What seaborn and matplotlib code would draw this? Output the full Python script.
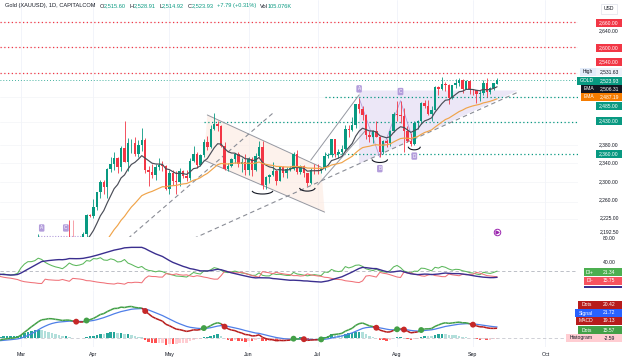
import numpy as np
import pandas as pd
import matplotlib.pyplot as plt
import seaborn as sns
from matplotlib.collections import LineCollection
from matplotlib.patches import Polygon, Arc, Rectangle
from matplotlib.ticker import NullLocator

# Daily XAUUSD bars, 2 Jan - 11 Sep 2024 (Jan/Feb only feed the indicators)
opens = [2063, 2060, 2042, 2043, 2045, 2028, 2029, 2024, 2029, 2049, 2055, 2028, 2006, 2023, 2029, 2021, 2029, 2014, 2020, 2018, 2033, 2037,
         2039, 2054, 2039, 2025, 2035, 2035, 2034, 2024, 2020, 1992, 1992, 2004, 2013, 2018, 2025, 2025, 2024, 2036, 2031, 2033, 2034,
         2044, 2083, 2114, 2128, 2148, 2159, 2178, 2182, 2158, 2174, 2162, 2155, 2160, 2157, 2186, 2181, 2165, 2172, 2179, 2194, 2233,
         2232, 2250, 2280, 2300, 2290, 2329, 2339, 2352, 2333, 2372, 2344, 2383, 2383, 2361, 2379, 2391, 2327, 2322, 2316, 2332, 2337, 2335,
         2286, 2320, 2303, 2301, 2323, 2314, 2309, 2346, 2360, 2336, 2358, 2386, 2376, 2415, 2425, 2421, 2378, 2329, 2334, 2350, 2360, 2338, 2343,
         2327, 2350, 2327, 2355, 2376, 2294, 2311, 2316, 2324, 2303, 2333, 2319, 2329, 2329, 2360, 2322, 2334, 2320, 2298, 2327,
         2326, 2324, 2330, 2356, 2357, 2392, 2359, 2364, 2371, 2415, 2411, 2422, 2469, 2459, 2445, 2400, 2396, 2409, 2397, 2364, 2387, 2384, 2410,
         2447, 2446, 2443, 2410, 2389, 2382, 2427, 2431, 2472, 2465, 2447, 2456, 2507, 2504, 2514, 2512, 2484, 2512, 2518, 2524, 2504, 2521,
         2503, 2500, 2493, 2495, 2516, 2497, 2506, 2515.6]
highs = [2079, 2065, 2055, 2064, 2047, 2040, 2040, 2039, 2062, 2059, 2057, 2031, 2025, 2034, 2033, 2032, 2037, 2024, 2025, 2036, 2040, 2056,
         2065, 2066, 2040, 2040, 2044, 2042, 2040, 2029, 2031, 1995, 2009, 2016, 2022, 2031, 2030, 2034, 2041, 2039, 2037, 2043, 2052,
         2088, 2119, 2141, 2152, 2165, 2195, 2189, 2185, 2180, 2176, 2171, 2164, 2163, 2188, 2222, 2182, 2176, 2184, 2199, 2236, 2236,
         2266, 2281, 2305, 2305, 2330, 2354, 2365, 2354, 2378, 2431, 2395, 2392, 2397, 2391, 2417, 2395, 2335, 2338, 2338, 2352, 2345, 2336,
         2326, 2326, 2325, 2330, 2327, 2326, 2351, 2378, 2364, 2359, 2392, 2398, 2422, 2450, 2432, 2423, 2385, 2341, 2352, 2363, 2364, 2352, 2360,
         2353, 2354, 2362, 2388, 2387, 2314, 2318, 2342, 2327, 2335, 2334, 2333, 2335, 2365, 2369, 2337, 2336, 2320, 2331, 2339,
         2338, 2333, 2364, 2363, 2392, 2393, 2370, 2379, 2424, 2424, 2440, 2469, 2483, 2465, 2447, 2410, 2412, 2431, 2399, 2390, 2392, 2412, 2451,
         2477, 2477, 2461, 2420, 2405, 2431, 2435, 2475, 2478, 2479, 2465, 2509, 2509, 2531.6, 2520, 2514, 2513, 2525, 2528, 2526, 2524, 2524,
         2504, 2502, 2500, 2523, 2529, 2507, 2517, 2528.91]
lows = [2058, 2030, 2034, 2024, 2017, 2021, 2021, 2013, 2027, 2047, 2024, 2002, 2004, 2021, 2016, 2011, 2011, 2010, 2013, 2010, 2026, 2033,
        2031, 2030, 2015, 2020, 2028, 2026, 2021, 2016, 1990, 1985, 1984, 1997, 2012, 2011, 2020, 2020, 2022, 2025, 2027, 2025, 2030,
        2038, 2078, 2113, 2125, 2145, 2155, 2175, 2150, 2155, 2154, 2153, 2152, 2146, 2146, 2175, 2156, 2164, 2170, 2174, 2186, 2229,
        2228, 2244, 2268, 2275, 2267, 2321, 2327, 2319, 2325, 2342, 2324, 2362, 2355, 2353, 2367, 2320, 2292, 2310, 2305, 2326, 2323, 2285,
        2277, 2294, 2277, 2292, 2310, 2303, 2306, 2344, 2331, 2335, 2353, 2369, 2373, 2412, 2409, 2374, 2326, 2324, 2332, 2341, 2333, 2322, 2315,
        2315, 2314, 2324, 2353, 2287, 2286, 2298, 2313, 2295, 2302, 2311, 2310, 2324, 2327, 2317, 2318, 2311, 2293, 2297, 2318,
        2318, 2319, 2327, 2352, 2353, 2353, 2352, 2359, 2367, 2396, 2410, 2416, 2449, 2435, 2393, 2385, 2384, 2396, 2353, 2361, 2375, 2378, 2407,
        2431, 2427, 2364, 2385, 2378, 2380, 2414, 2425, 2460, 2444, 2431, 2455, 2489, 2502, 2499, 2470, 2481, 2505, 2511, 2494, 2503, 2493,
        2490, 2471, 2477, 2490, 2485, 2492, 2500, 2514.92]
closes = [2060, 2042, 2043, 2045, 2028, 2029, 2024, 2029, 2049, 2055, 2028, 2006, 2023, 2029, 2021, 2029, 2014, 2020, 2018, 2033, 2037, 2039,
          2054, 2039, 2025, 2035, 2035, 2034, 2024, 2020, 1992, 1992, 2004, 2013, 2018, 2025, 2025, 2024, 2036, 2031, 2033, 2034, 2044,
          2083, 2114, 2128, 2148, 2159, 2178, 2182, 2158, 2174, 2162, 2155, 2160, 2157, 2186, 2181, 2165, 2172, 2179, 2194, 2233, 2232,
          2250, 2280, 2300, 2290, 2329, 2339, 2352, 2333, 2372, 2344, 2383, 2383, 2361, 2379, 2391, 2327, 2322, 2316, 2332, 2337, 2335, 2286,
          2320, 2303, 2301, 2323, 2314, 2309, 2346, 2360, 2336, 2358, 2386, 2376, 2415, 2425, 2421, 2378, 2329, 2334, 2350, 2360, 2338, 2343, 2327,
          2350, 2327, 2355, 2376, 2294, 2311, 2316, 2324, 2303, 2333, 2319, 2329, 2329, 2360, 2322, 2334, 2320, 2298, 2327, 2326,
          2324, 2330, 2356, 2357, 2392, 2359, 2364, 2371, 2415, 2411, 2422, 2469, 2459, 2445, 2400, 2396, 2409, 2397, 2364, 2387, 2384, 2410, 2447,
          2446, 2443, 2410, 2389, 2382, 2427, 2431, 2472, 2465, 2447, 2456, 2507, 2504, 2514, 2512, 2484, 2512, 2518, 2524, 2504, 2521, 2503,
          2500, 2493, 2495, 2516, 2497, 2506, 2516, 2523.93]

month_labels = ["Mar", "Apr", "May", "Jun", "Jul", "Aug", "Sep", "Oct"]

# horizontal levels
red_levels = [2660, 2600, 2540]
green_levels = [2485, 2430, 2360]
green_starts = ["2024-07-03", "2024-05-15", "2024-07-03"]
last_price = 2523.93

# drawings, anchored as (date, price)
channel_dates = ["2024-05-16", "2024-07-02", "2024-07-03", "2024-05-15"]
channel_prices = [2445, 2332, 2239, 2347]
rise1_dates, rise1_prices = ["2024-06-27", "2024-07-17"], [2347, 2490]
rise2_dates, rise2_prices = ["2024-07-01", "2024-07-19"], [2295, 2412]
trend_a_dates, trend_a_prices = ["2024-04-15", "2024-06-12"], [2186, 2449]
trend_b_dates, trend_b_prices = ["2024-05-10", "2024-09-19"], [2186, 2496]
zone_dates = ["2024-07-17", "2024-09-19", "2024-07-17"]
zone_prices = [2500, 2500, 2339]
pattern_dates = ["2024-07-17", "2024-07-25", "2024-08-02", "2024-08-08"]
pattern_prices = [2483, 2353, 2477, 2380]
pattern_labels = ["A", "B", "C", "D"]
arc_dates = ["2024-06-07", "2024-06-26", "2024-07-25", "2024-08-08"]
arc_prices = [2283, 2289, 2349, 2376]

# ---- indicators
df = pd.DataFrame({"open": opens, "high": highs, "low": lows, "close": closes},
                  index=pd.bdate_range("2024-01-02", periods=len(closes)))
c, h, l = df["close"], df["high"], df["low"]
df["ema_fast"] = c.ewm(span=10, adjust=False).mean()
df["ema_slow"] = c.ewm(span=30, adjust=False).mean()

up, dn = h.diff(), -l.diff()
pdm = pd.Series(np.where((up > dn) & (up > 0), up, 0.0), index=df.index)
mdm = pd.Series(np.where((dn > up) & (dn > 0), dn, 0.0), index=df.index)
tr = pd.concat([h - l, (h - c.shift()).abs(), (l - c.shift()).abs()], axis=1).max(axis=1)
rma = lambda s: s.ewm(alpha=1 / 14, adjust=True).mean()
atr = rma(tr)
df["pdi"] = 100 * rma(pdm) / atr
df["mdi"] = 100 * rma(mdm) / atr
dx = 100 * (df["pdi"] - df["mdi"]).abs() / (df["pdi"] + df["mdi"])
df["adx"] = rma(dx)

df["macd"] = c.ewm(span=12, adjust=False).mean() - c.ewm(span=26, adjust=False).mean()
df["signal"] = df["macd"].ewm(span=9, adjust=False).mean()
df["hist"] = df["macd"] - df["signal"]

# ---- positions (bar index, future bars included for the time axis)
days = pd.bdate_range("2024-01-02", "2024-10-31")
pos_of = {d: i for i, d in enumerate(days)}
X = lambda d: pos_of[pd.Timestamp(d)]
x = np.arange(len(df))
month_pos = [X(days[days.month == m][0]) for m in range(3, 11)]
mar1 = month_pos[0]

sns.set_theme(style="white")
plt.rcParams["font.family"] = ["Liberation Sans", "DejaVu Sans"]

W, H = 625, 363
fig = plt.figure(figsize=(6.25, 3.63), dpi=100)


def panel(top, bottom):
    return fig.add_axes([0, 1 - bottom / H, 578 / W, (bottom - top) / H])


ax = panel(0, 237)
ax_dmi = panel(237, 290)
ax_macd = panel(290, 347)
for a in (ax, ax_dmi, ax_macd):
    a.set_xlim(mar1 - 21 / 3.45, mar1 + 557 / 3.45)
    a.set_xticks(month_pos)
    a.grid(axis="x", color="#f0f3fa", lw=0.6)
    for s in a.spines.values():
        s.set_visible(False)
    a.tick_params(length=0, labelleft=False, labelbottom=False)

# ---- main price pane (log scale like the source)
ax.set_yscale("log")
ax.set_ylim(2189, 2713.6)
ax.set_yticks([2225, 2260, 2300, 2340, 2380, 2430, 2485, 2540, 2600, 2660])
ax.yaxis.set_minor_locator(NullLocator())
ax.grid(axis="y", color="#f3f4f7", lw=0.5)
ax.tick_params(labelleft=False)

green, red = "#089981", "#f23645"
up_bar = df["close"] >= df["open"]
col = np.where(up_bar, green, red)
ax.vlines(x, df["low"], df["high"], colors=col, lw=0.6, zorder=3)
body = (df["close"] - df["open"]).values
body = np.where(np.abs(body) < 0.8, 0.8, body)
ax.bar(x, body, bottom=df["open"], width=0.72, color=col, lw=0, zorder=4)

sns.lineplot(x=x, y=df["ema_fast"].values, ax=ax, color="#4a4d57", lw=0.85, zorder=5)
sns.lineplot(x=x, y=df["ema_slow"].values, ax=ax, color="#f0a44a", lw=0.85, zorder=5)

for lv in red_levels:
    ax.axhline(lv, color=red, ls=(0, (1, 2)), lw=0.9)
ax.axhline(last_price, color=green, ls=(0, (1, 2.5)), lw=0.6)
for lv, st in zip(green_levels, green_starts):
    ax.hlines(lv, X(st), ax.get_xlim()[1], color=green, ls=(0, (1, 2)), lw=0.9)

# descending channel
ch = [(X(d), p) for d, p in zip(channel_dates, channel_prices)]
ax.add_patch(Polygon(ch, closed=True, fc="#fce8de", ec="none", alpha=0.55, zorder=1))
ax.plot([ch[0][0], ch[1][0]], [ch[0][1], ch[1][1]], color="#9598a1", lw=0.7, zorder=2)
ax.plot([ch[3][0], ch[2][0]], [ch[3][1], ch[2][1]], color="#9598a1", lw=0.7, zorder=2)
# rising lines into July
for ds, ps in ((rise1_dates, rise1_prices), (rise2_dates, rise2_prices)):
    ax.plot([X(d) for d in ds], ps, color="#9598a1", lw=0.7, zorder=2)
# dashed trendlines
for ds, ps in ((trend_a_dates, trend_a_prices), (trend_b_dates, trend_b_prices)):
    ax.plot([X(d) for d in ds], ps, color="#8a8d96", lw=0.8, ls=(0, (4, 3)), zorder=2)
# lavender zone
ax.add_patch(Polygon([(X(d), p) for d, p in zip(zone_dates, zone_prices)],
                     closed=True, fc="#e4def5", ec="none", alpha=0.7, zorder=1))
# ABCD pattern
px = [X(d) for d in pattern_dates]
ax.plot(px, pattern_prices, color="#b39ddb", lw=0.6, zorder=2)
for xx, pp, lab, k in zip(px, pattern_prices, pattern_labels, range(4)):
    off = 1.006 if k % 2 == 0 else 0.992
    ax.text(xx, pp * off, lab, ha="center", va="bottom" if k % 2 == 0 else "top",
            fontsize=3.4, color="white", zorder=7,
            bbox=dict(boxstyle="round,pad=0.25", fc="#b39ddb", ec="none"))
# smile arcs under swing lows
for d, p, w in zip(arc_dates, arc_prices, [6, 4.5, 4.5, 3.5]):
    ax.add_patch(Arc((X(d), p), width=w, height=14, theta1=190, theta2=350,
                     color="#131722", lw=0.8, zorder=6))
# fragments at the lower left
ax.hlines(2190.5, X("2024-03-08"), X("2024-03-27"), color="#b39ddb", ls=(0, (1, 1.5)), lw=0.8)
ax.vlines(X("2024-03-22"), 2189, 2222, color="#f7a1a8", lw=0.7)
for d, lab in (("2024-03-11", "A"), ("2024-03-20", "C")):
    ax.text(X(d), 2207, lab, ha="center", va="center", fontsize=3.4, color="white",
            bbox=dict(boxstyle="round,pad=0.25", fc="#b39ddb", ec="none"))
ax.scatter([X("2024-09-11")], [2199], s=22, fc="white", ec="#9c27b0", lw=0.7, zorder=7)
ax.scatter([X("2024-09-11")], [2199], s=4, marker=">", c="#9c27b0", zorder=8)

# ---- DMI pane
ax_dmi.set_ylim(-4.8, 80)
ax_dmi.axhline(25, color="#b2b5be", ls=(0, (4, 3)), lw=0.6)
sns.lineplot(x=x, y=df["pdi"].values, ax=ax_dmi, color="#5cb85c", lw=0.75)
sns.lineplot(x=x, y=df["mdi"].values, ax=ax_dmi, color="#f07178", lw=0.75)
sns.lineplot(x=x, y=df["adx"].values, ax=ax_dmi, color="#3b2f8f", lw=1.0)

# ---- MACD pane
ax_macd.set_ylim(-19, 97)
ax_macd.axhline(0, color="#c7c9d0", ls=(0, (4, 3)), lw=0.6)
hv = df["hist"]
hcol = np.where(hv >= 0, np.where(hv >= hv.shift(), "#26a69a", "#b2dfdb"),
                np.where(hv < hv.shift(), "#ff5252", "#ffcdd2"))
ax_macd.bar(x, hv, width=0.75, color=hcol, lw=0)
sns.lineplot(x=x, y=df["signal"].values, ax=ax_macd, color="#4f7fe8", lw=0.9)
above = (df["macd"] > df["signal"]).values
pts = np.column_stack([x, df["macd"].values])
segs = np.stack([pts[:-1], pts[1:]], axis=1)
ax_macd.add_collection(LineCollection(segs, colors=np.where(above[1:], "#43a047", "#b71c1c"),
                                      linewidths=1.1, zorder=4))
cross = np.r_[False, above[1:] != above[:-1]]
sns.scatterplot(x=x[cross], y=df["macd"].values[cross], ax=ax_macd,
                hue=np.where(above[cross], "up", "down"),
                palette={"up": "#43a047", "down": "#c62828"}, s=18, edgecolor="none",
                legend=False, zorder=6)

ax_macd.set_xticks(month_pos)
ax_macd.set_xticklabels(month_labels)
ax_macd.tick_params(axis="x", labelbottom=True, pad=3.6, labelsize=3.8, colors="#131722")

# ---- right scale labels
def tag(y, text, fc=None, tc="#131722", name=None, nfc=None, ntc="white", nx=580):
    yc = 1 - y / H
    if fc:
        fig.add_artist(Rectangle((596 / W, yc - 4.2 / H), 26 / W, 8.4 / H,
                                 transform=fig.transFigure, fc=fc, ec="none"))
    fig.text(609 / W, yc, text, ha="center", va="center", fontsize=3.6, color=tc)
    if name:
        fig.add_artist(Rectangle((nx / W, yc - 4.2 / H), (596 - nx) / W, 8.4 / H,
                                 transform=fig.transFigure, fc=nfc, ec="none"))
        fig.text((nx + 596) / 2 / W, yc, name, ha="center", va="center", fontsize=3.6, color=ntc)


fig.text(609 / W, 1 - 9 / H, "USD", ha="center", va="center", fontsize=3.6, color="#131722",
         bbox=dict(boxstyle="square,pad=0.5", fc="white", ec="#e0e3eb", lw=0.5))
tag(23, "2,660.00", red, "white")
tag(31, "2,640.00")
tag(48, "2,600.00", red, "white")
tag(62, "2,540.00", red, "white")
tag(72, "2,531.63", "#eef2fa", name="High", nfc="#e3ecfa", ntc="#131722", nx=580)
tag(81, "2,523.93", green, "white", name="GOLD", nfc=green, nx=577)
tag(89, "2,506.31", "#131722", "white", name="EMA", nfc="#131722", nx=581)
tag(97, "2,487.19", "#f57c00", "white", name="EMA", nfc="#f57c00", nx=581)
tag(106, "2,485.00", green, "white")
tag(121, "2,430.00", green, "white")
tag(145, "2,380.00")
tag(154, "2,360.00", green, "white")
tag(163, "2,340.00")
tag(182, "2,300.00")
tag(200, "2,260.00")
tag(218, "2,225.00")
tag(232, "2,192.50")
tag(238, "80.00")
tag(262, "40.00")
tag(272, "21.34", "#4caf50", "white", name="DI+", nfc="#4caf50", nx=584)
tag(281, "15.75", "#f7525f", "white", name="DI-", nfc="#f7525f", nx=584)
fig.add_artist(Rectangle((584 / W, 1 - 288 / H), 38 / W, 1.6 / H, transform=fig.transFigure,
                         fc="#3b2f8f", ec="none"))
tag(305, "20.42", "#b71c1c", "white", name="Dots", nfc="#b71c1c", nx=578)
tag(313, "21.72", "#2962ff", "white", name="Signal", nfc="#2962ff", nx=575)
tag(321, "19.13", "#b71c1c", "white", name="MACD", nfc="#b71c1c", nx=576)
tag(330, "15.57", "#43a047", "white", name="Dots", nfc="#43a047", nx=578)
tag(338, "-2.59", "#ffcdd2", "#131722", name="Histogram", nfc="#ffcdd2", ntc="#131722", nx=566)

# ---- legend line at the top
teal, ink = "#089981", "#131722"
parts = [("O", ink, 3), ("2,515.60", teal, 0), ("H", ink, 2.5), ("2,528.91", teal, 0),
         ("L", ink, 2.5), ("2,514.92", teal, 0), ("C", ink, 2.5), ("2,523.93", teal, 0),
         ("+7.79 (+0.31%)", teal, 2.5), ("Vol", ink, 2.5), ("105.076K", teal, 0)]
t = fig.text(5 / W, 1 - 6 / H, "Gold (XAUUSD), 1D, CAPITALCOM", fontsize=4.1, color=ink, va="center")
for s, colr, gap in parts:
    t = ax.annotate(s, xy=(1, 0.5), xycoords=t, xytext=(gap, 0), textcoords="offset points",
                    va="center", ha="left", fontsize=4.1, color=colr)

fig.savefig("out.png", dpi=100)
